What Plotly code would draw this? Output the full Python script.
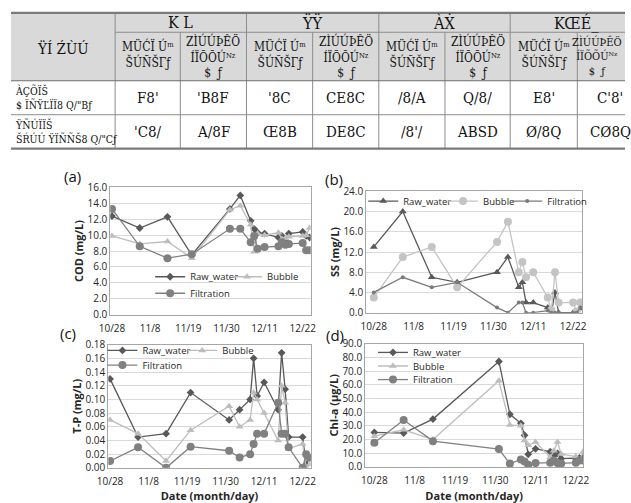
import plotly.graph_objects as go
from datetime import datetime, timedelta

W, H = 631, 503

# ---------------- data ----------------
dates = ["2013-10-28", "2013-11-05", "2013-11-13", "2013-11-20", "2013-12-01",
         "2013-12-04", "2013-12-07", "2013-12-08", "2013-12-09", "2013-12-11",
         "2013-12-15", "2013-12-16", "2013-12-17", "2013-12-18", "2013-12-22",
         "2013-12-23", "2013-12-24"]

cod_raw = [12.4, 10.9, 12.3, 7.5, 13.3, 15.0, 11.8, 10.8, 10.3, 10.2, 9.7, 9.9, 9.3, 10.2, 10.4, 9.9, 9.7]
cod_bubble = [9.9, 8.9, 9.2, 7.1, 13.2, 13.7, 11.3, 7.9, 10.2, 10.0, 10.3, 9.5, 9.6, 9.8, 9.9, 10.0, 10.9]
cod_filt = [13.3, 8.6, 7.1, 7.6, 10.8, 10.8, 9.1, 9.9, 8.3, 8.5, 8.6, 9.1, 8.8, 8.9, 9.0, 8.1, 8.1]

ss_raw = [13.0, 20.0, 7.0, 6.0, 8.0, 11.0, 5.0, 6.0, 2.0, 2.0, 1.0, 0.0, 4.0, 0.0, 0.0, 0.0, 0.8]
ss_bubble = [3.0, 11.0, 13.0, 5.0, 14.0, 18.0, 8.0, 10.0, 7.0, 8.0, 3.0, 0.5, 8.0, 2.0, 2.0, 0.2, 2.0]
ss_filt = [4.0, 7.0, 5.0, 6.0, 1.0, 0.0, 2.0, 2.0, 0.0, 0.0, 0.4, 0.0, 0.0, 0.0, 0.0, 0.0, 1.0]

tp_raw = [0.130, 0.045, 0.050, 0.110, 0.070, 0.085, 0.100, 0.160, 0.105, 0.125, 0.085, 0.168, 0.115, 0.045, 0.045, 0.005, 0.015]
tp_bubble = [0.070, 0.050, 0.010, 0.055, 0.090, 0.060, 0.070, 0.110, 0.100, 0.080, 0.040, 0.120, 0.095, 0.028, 0.035, 0.000, 0.005]
tp_filt = [0.010, 0.030, 0.000, 0.031, 0.025, 0.015, 0.020, 0.035, 0.050, 0.050, 0.095, 0.050, 0.050, 0.030, 0.000, 0.020, 0.015]

chl_raw = [25.2, 24.7, 34.9, None, 77.0, 38.4, 31.8, 23.1, 9.2, 13.2, 11.1, 8.2, 9.9, 6.1, 6.0, 6.5, 7.0]
chl_bubble = [22.4, 27.1, 20.0, None, 62.9, 30.6, 30.0, 19.3, 15.8, 18.1, 7.0, 11.8, 18.1, 9.4, 7.5, 4.7, 11.0]
chl_filt = [17.7, 34.2, 18.8, None, 13.0, 2.4, 5.4, 4.0, 1.6, 2.8, 3.1, 4.7, 2.8, 2.5, 3.1, 4.7, 4.7]

series_names = ["Raw_water", "Bubble", "Filtration"]

tick_dates = ["2013-10-28", "2013-11-08", "2013-11-19", "2013-11-30", "2013-12-11", "2013-12-22"]
tick_text = ["10/28", "11/8", "11/19", "11/30", "12/11", "12/22"]

# table text (as it appears)
tbl_corner = "ŸÍ ŹÙÚ"
tbl_groups = ["K L", "ŸŸ", "ÀẊ", "KŒÉ_"]
tbl_sub_a = "MÜĆÏ Úᵐ<br>ŠÚÑŠΓƒ"
tbl_sub_b = "ZÌÚÚÞÊÖ<br>ÍÏÕÕÚᴺᶻ<br>$  ƒ"
tbl_row_labels = ["ÀÇÕÏŠ<br>$ ÏÑŸĽÏÏ8 Q/\"Bƒ", "ŸÑÚÏÏŠ<br>ŠŔÚÚ ŸÏÑÑŠ8 Q/\"Cƒ"]
tbl_vals_1 = ["F8'", "'B8F", "'8C", "CE8C", "/8/A", "Q/8/", "E8'", "C'8'"]
tbl_vals_2 = ["'C8/", "A/8F", "Œ8B", "DE8C", "/8'/", "ABSD", "Ø/8Q", "CØ8Q"]

# ---------------- helpers ----------------
def fx(x):
    return x / W

def fy(y):
    return 1 - y / H

base = datetime(2013, 10, 28)

def dday(d):
    return (base + timedelta(days=d)).strftime("%Y-%m-%d %H:%M")

fig = go.Figure()

# ---------------- table ----------------
col_x = [0, 107, 174, 242, 310, 378, 446, 513, 582, 650]
row_y = [5, 25, 75, 110, 145]
shapes = []
shapes.append(dict(type="rect", xref="paper", yref="paper", x0=fx(0), x1=fx(W), y0=fy(row_y[2]), y1=fy(row_y[0]),
                   fillcolor="#d9d9d9", line=dict(width=0), layer="below"))
for i, cx in enumerate(col_x[1:-1], start=1):
    y_top = row_y[0] if (i % 2 == 1) else row_y[1]
    shapes.append(dict(type="line", xref="paper", yref="paper", x0=fx(cx), x1=fx(cx), y0=fy(row_y[4]), y1=fy(y_top),
                       line=dict(color="#8c8c8c", width=1)))
shapes.append(dict(type="line", xref="paper", yref="paper", x0=fx(col_x[1]), x1=fx(W), y0=fy(row_y[1]), y1=fy(row_y[1]),
                   line=dict(color="#8c8c8c", width=1)))
for yy, wdt, col in [(row_y[2], 1.2, "#6e6e6e"), (row_y[3], 1, "#8c8c8c")]:
    shapes.append(dict(type="line", xref="paper", yref="paper", x0=0, x1=1, y0=fy(yy), y1=fy(yy),
                       line=dict(color=col, width=wdt)))
for yy in (row_y[0], row_y[4]):
    shapes.append(dict(type="line", xref="paper", yref="paper", x0=0, x1=1, y0=fy(yy), y1=fy(yy),
                       line=dict(color="#7a7a7a", width=2.2)))

annotations = []
tfont = "DejaVu Serif Condensed, Liberation Serif"

def tann(text, x, y, size, xanchor="center"):
    annotations.append(dict(text=text, x=fx(x), y=fy(y), xref="paper", yref="paper", showarrow=False,
                            xanchor=xanchor, yanchor="middle", align="left" if xanchor == "left" else "center",
                            font=dict(family=tfont, size=size, color="#111")))

tann(tbl_corner, 53, 42, 15)
for g, name in enumerate(tbl_groups):
    x0, x1 = col_x[1 + 2 * g], col_x[3 + 2 * g]
    tann(name, (x0 + x1) / 2, 15, 16)
    tann(tbl_sub_a, (col_x[1 + 2 * g] + col_x[2 + 2 * g]) / 2, 47, 12)
    if g == len(tbl_groups) - 1:
        tann(tbl_sub_b, 630, 50, 11, xanchor="right")
    else:
        tann(tbl_sub_b, (col_x[2 + 2 * g] + col_x[3 + 2 * g]) / 2, 50, 12)
for r, (lab, vals) in enumerate(zip(tbl_row_labels, [tbl_vals_1, tbl_vals_2])):
    yc = (row_y[2 + r] + row_y[3 + r]) / 2
    tann(lab, 2, yc, 10.5, xanchor="left")
    for c, v in enumerate(vals):
        tann(v, (col_x[1 + c] + col_x[2 + c]) / 2, yc, 15)

# ---------------- charts ----------------
panels = [
    dict(key="", dom_x=(102, 308), dom_y=(185, 316), yr=[0, 16], dt=2, fmt=".1f", title="COD (mg/L)",
         xr=(-0.5, 57.3), data=[cod_raw, cod_bubble, cod_filt], style="A", xtitle=None, label="(a)", lab=(63, 173),
         leg=[(183, 277), (262, 277), (183, 294)]),
    dict(key="2", dom_x=(365, 587), dom_y=(189, 314), yr=[0, 24], dt=4, fmt=".1f", title="SS (mg/L)",
         xr=(-2.1, 57.5), data=[ss_raw, ss_bubble, ss_filt], style="B", xtitle=None, label="(b)", lab=(332, 176),
         leg=[(402, 199), (484, 199), (550, 199)]),
    dict(key="3", dom_x=(100, 308), dom_y=(347, 474), yr=[0, 0.18], dt=0.02, fmt=".2f", title="T-P (mg/L)",
         xr=(-0.5, 57.3), data=[tp_raw, tp_bubble, tp_filt], style="A", xtitle="Date (month/day)", label="(c)", lab=(59, 335),
         leg=[(134, 353), (216, 353), (134, 368)]),
    dict(key="4", dom_x=(364, 588), dom_y=(346, 473), yr=[0, 90], dt=10, fmt=".1f", title="Chl-a (μg/L)",
         xr=(-2.5, 57.0), data=[chl_raw, chl_bubble, chl_filt], style="A", xtitle="Date (month/day)", label="(d)", lab=(333, 337),
         leg=[(412, 355), (412, 369), (412, 383)]),
]

styles = {
    "A": [dict(symbol="diamond", color="#595959", size=6),
          dict(symbol="triangle-up", color="#bdbdbd", size=7),
          dict(symbol="circle", color="#808080", size=8)],
    "B": [dict(symbol="triangle-up", color="#595959", size=7),
          dict(symbol="circle", color="#c4c4c4", size=8),
          dict(symbol="circle", color="#7a7a7a", size=4)],
}

cfont = "Open Sans"
layout_axes = {}
legends = {}
leg_idx = 0
for p_i, p in enumerate(panels):
    k = p["key"]
    for s_i, (vals, nm) in enumerate(zip(p["data"], series_names)):
        st = styles[p["style"]][s_i]
        leg_idx += 1
        lname = "legend" if leg_idx == 1 else "legend%d" % leg_idx
        tx, ty = p["leg"][s_i]
        legends[lname] = dict(bgcolor="rgba(0,0,0,0)", borderwidth=0,
                              font=dict(family=cfont, size=9.5, color="#262626"),
                              xanchor="left", yanchor="middle", orientation="v",
                              x=fx(tx - 40), y=fy(ty), itemclick=False, itemdoubleclick=False)
        fig.add_trace(go.Scatter(
            x=dates, y=vals, name=nm, mode="lines+markers", connectgaps=True,
            xaxis="x" + k, yaxis="y" + k, legend=lname,
            line=dict(color=st["color"], width=1.3),
            marker=dict(symbol=st["symbol"], color=st["color"], size=st["size"], line=dict(width=0)),
        ))
    xa = dict(domain=[fx(p["dom_x"][0]), fx(p["dom_x"][1])], anchor="y" + k, type="date",
              range=[dday(p["xr"][0]), dday(p["xr"][1])], tickmode="array", tickvals=tick_dates, ticktext=tick_text,
              showgrid=False, showline=True, linecolor="#a6a6a6", mirror=True, ticks="", zeroline=False,
              ticklabelstandoff=4,
              tickfont=dict(family=cfont, size=10, color="#262626"))
    if p["xtitle"]:
        xa["title"] = dict(text="<b>" + p["xtitle"] + "</b>", font=dict(family=cfont, size=11, color="#262626"), standoff=7)
    ya = dict(domain=[fy(p["dom_y"][1]), fy(p["dom_y"][0])], anchor="x" + k, range=p["yr"], dtick=p["dt"],
              tickformat=p["fmt"], showgrid=True, gridcolor="#d9d9d9", gridwidth=1, showline=True,
              linecolor="#a6a6a6", mirror=True, ticks="", zeroline=False,
              tickfont=dict(family=cfont, size=10, color="#262626"),
              title=dict(text="<b>" + p["title"] + "</b>", font=dict(family=cfont, size=11, color="#262626"), standoff=1))
    layout_axes["xaxis" + k] = xa
    layout_axes["yaxis" + k] = ya
    annotations.append(dict(text=p["label"], x=fx(p["lab"][0]), y=fy(p["lab"][1]), xref="paper", yref="paper",
                            showarrow=False, xanchor="center", yanchor="middle",
                            font=dict(family=cfont, size=15, color="#111")))

fig.update_layout(
    width=W, height=H, margin=dict(l=0, r=0, t=0, b=0),
    paper_bgcolor="white", plot_bgcolor="white",
    shapes=shapes, annotations=annotations, showlegend=True,
    **layout_axes, **legends,
)

fig.write_html("out.html")
